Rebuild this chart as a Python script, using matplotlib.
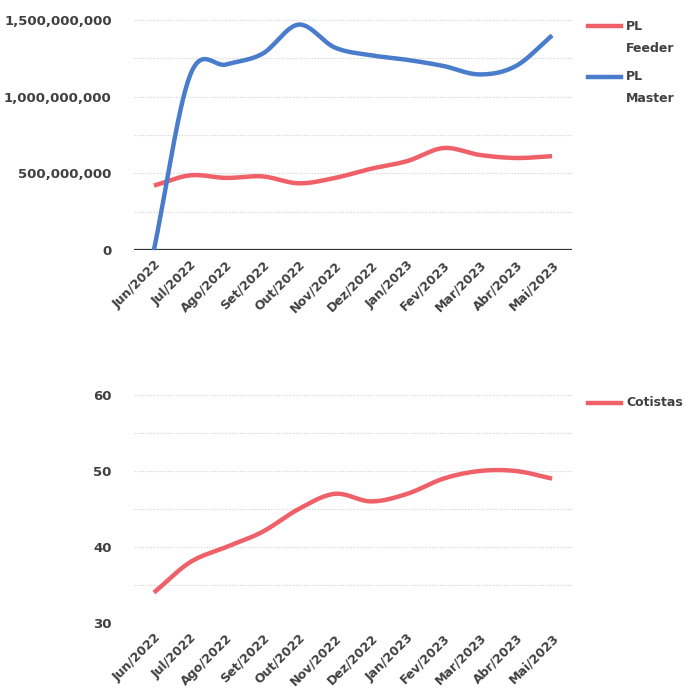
import numpy as np
import matplotlib
matplotlib.use("Agg")
import matplotlib.pyplot as plt
from matplotlib.lines import Line2D
from matplotlib.ticker import FuncFormatter

months = ["Jun/2022", "Jul/2022", "Ago/2022", "Set/2022", "Out/2022", "Nov/2022",
          "Dez/2022", "Jan/2023", "Fev/2023", "Mar/2023", "Abr/2023", "Mai/2023"]
pl_feeder = [420e6, 487e6, 470e6, 480e6, 435e6, 470e6, 530e6, 580e6, 665e6, 620e6, 600e6, 612e6]
pl_master = [0, 1140e6, 1210e6, 1280e6, 1470e6, 1320e6, 1270e6, 1240e6, 1200e6, 1145e6, 1200e6, 1400e6]
cotistas = [34, 38, 40, 42, 45, 47, 46, 47, 49, 50, 50, 49]

RED = "#EF6068"
BLUE = "#4A7CCC"
TXT = "#404040"
GRID = "#D0D0D0"
FONT = "DejaVu Sans"
FS = 9


def smooth(x, y, n=30):
    """Catmull-Rom curve through the points (like a spreadsheet 'smoothed line')."""
    x = np.asarray(x, float)
    y = np.asarray(y, float)
    px = np.concatenate([[2 * x[0] - x[1]], x, [2 * x[-1] - x[-2]]])
    py = np.concatenate([[2 * y[0] - y[1]], y, [2 * y[-1] - y[-2]]])
    xs, ys = [], []
    t = np.linspace(0, 1, n, endpoint=False)
    for i in range(1, len(px) - 2):
        for p, out in ((px, xs), (py, ys)):
            p0, p1, p2, p3 = p[i - 1], p[i], p[i + 1], p[i + 2]
            out.extend(0.5 * ((2 * p1) + (-p0 + p2) * t
                              + (2 * p0 - 5 * p1 + 4 * p2 - p3) * t ** 2
                              + (-p0 + 3 * p1 - 3 * p2 + p3) * t ** 3))
    xs.append(x[-1])
    ys.append(y[-1])
    return np.array(xs), np.array(ys)


fig = plt.figure(figsize=(6.87, 6.91), dpi=100)
W, H = 687, 691


def add_axes(left, top, right, bottom):
    return fig.add_axes([left / W, 1 - bottom / H, (right - left) / W, (bottom - top) / H])


x = np.arange(len(months))


def style(ax):
    for s in ax.spines.values():
        s.set_visible(False)
    ax.set_xlim(-0.55, len(months) - 0.45)
    ax.set_xticks(x)
    ax.set_xticklabels(months, rotation=45, ha="right", rotation_mode="anchor",
                       fontsize=FS, fontweight="bold", color=TXT, family=FONT)
    ax.tick_params(axis="both", length=0)
    ax.tick_params(axis="x", pad=6)
    ax.tick_params(axis="y", pad=16)
    for lab in ax.get_yticklabels():
        lab.set_fontweight("bold")
        lab.set_color(TXT)
        lab.set_fontsize(FS + 0.5)
        lab.set_family(FONT)


# --- Top chart: PL Feeder / PL Master ---
ax1 = add_axes(134, 20, 572, 250)
ax1.set_ylim(0, 1.5e9)
for g in np.arange(0, 1.5e9 + 1, 250e6):
    ax1.axhline(g, color=GRID, lw=0.8, ls=(0, (1, 1.5)), zorder=0)
ax1.axhline(0, color="#333333", lw=1.6, zorder=1)
ax1.set_yticks(np.arange(0, 1.5e9 + 1, 500e6))
ax1.yaxis.set_major_formatter(FuncFormatter(lambda v, p: f"{v:,.0f}"))
sx, sy = smooth(x, pl_feeder)
ax1.plot(sx, sy, color=RED, lw=3.2, solid_capstyle="butt", zorder=3, clip_on=False)
sx, sy = smooth(x, pl_master)
ax1.plot(sx, sy, color=BLUE, lw=3.2, solid_capstyle="butt", zorder=3, clip_on=False)
style(ax1)

# --- Bottom chart: Cotistas ---
ax2 = add_axes(134, 395, 572, 623)
ax2.set_ylim(30, 60)
for g in np.arange(30, 61, 5):
    ax2.axhline(g, color=GRID, lw=0.8, ls=(0, (1, 1.5)), zorder=0)
ax2.set_yticks(np.arange(30, 61, 10))
sx, sy = smooth(x, cotistas)
ax2.plot(sx, sy, color=RED, lw=3.2, solid_capstyle="butt", zorder=3, clip_on=False)
style(ax2)


# Legends
def legend_entry(y_px, color, lines):
    fig.add_artist(Line2D([588 / W, 621 / W], [1 - y_px / H] * 2, color=color, lw=3.2,
                          transform=fig.transFigure))
    for i, t in enumerate(lines):
        fig.text(626 / W, 1 - (y_px + i * 22) / H, t, fontsize=FS, fontweight="bold",
                 color=TXT, va="center", ha="left", family=FONT)


legend_entry(26, RED, ["PL", "Feeder"])
legend_entry(77, BLUE, ["PL", "Master"])
legend_entry(403, RED, ["Cotistas"])

fig.savefig("out.png", dpi=100, facecolor="white")
